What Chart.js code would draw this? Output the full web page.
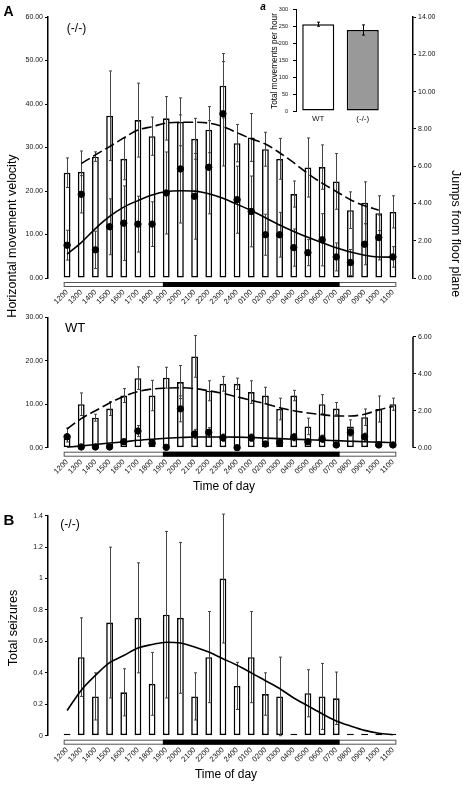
<!DOCTYPE html>
<html>
<head>
<meta charset="utf-8">
<script src="https://cdn.jsdelivr.net/npm/chart.js@4.4.0/dist/chart.umd.min.js"></script>
<style>
  body { margin: 0; background: #fff; }
  #fig { position: relative; width: 463px; height: 786px; overflow: hidden; font-family: "Liberation Sans", Arial, sans-serif; }
  canvas { position: absolute; }
  .lbl { position: absolute; color: #000; white-space: nowrap; line-height: 1; transform: translate(-50%, -50%); }
  .up { transform: translate(-50%, -50%) rotate(-90deg); }
  .down { position: absolute; color: #000; white-space: nowrap; line-height: 1; transform-origin: 0 0; transform: rotate(90deg); }
</style>
</head>
<body>
<div id="fig">
  <canvas id="ko" width="463" height="320" style="left:0;top:0"></canvas>
  <canvas id="wt" width="463" height="180" style="left:0;top:300px"></canvas>
  <canvas id="sz" width="463" height="296" style="left:0;top:490px"></canvas>
  <canvas id="inset" width="130" height="126" style="left:262px;top:0"></canvas>

  <div class="lbl" style="left:8.5px;top:11px;font-size:14px;font-weight:bold">A</div>
  <div class="lbl" style="left:9px;top:518.5px;font-size:15px;font-weight:bold">B</div>
  <div class="lbl" style="left:76.5px;top:28px;font-size:12px">(-/-)</div>
  <div class="lbl" style="left:75px;top:326.5px;font-size:13px">WT</div>
  <div class="lbl" style="left:70px;top:523.5px;font-size:12px">(-/-)</div>
  <div class="lbl" style="left:263px;top:6.5px;font-size:10px;font-weight:bold;font-style:italic">a</div>
  <div class="lbl up" style="left:12px;top:236px;font-size:12.5px">Horizontal movement velocity</div>
  <div class="down" style="left:462px;top:170px;font-size:12.5px">Jumps from floor plane</div>
  <div class="lbl" style="left:224px;top:486px;font-size:12px">Time of day</div>
  <div class="lbl" style="left:226px;top:774px;font-size:12px">Time of day</div>
  <div class="lbl up" style="left:12.5px;top:628px;font-size:12.5px">Total seizures</div>
  <div class="lbl up" style="left:273.5px;top:61px;font-size:8.3px">Total movements per hour</div>
</div>
<script>
const hours = ['1200', '1300', '1400', '1500', '1600', '1700', '1800', '1900', '2000', '2100', '2200', '2300',
    '2400', '0100', '0200', '0300', '0400', '0500', '0600', '0700', '0800', '0900', '1000', '1100'];
const darkFrom = '1900';
const darkTo = '0700';

// (-/-) horizontal velocity (bars, left axis) and jumps (dots, right axis)
const koVelocity = [24.2, 24.4, 27.9, 37.3, 27.4, 36.3, 32.6, 36.7, 35.9, 32.0, 34.1, 44.2,
    31.0, 32.3, 29.6, 27.4, 19.3, 25.4, 25.5, 22.2, 15.6, 17.3, 14.9, 15.2];
const koVelocityErr = [3.4, 4.8, 1.1, 10.3, 4.8, 8.5, 4.4, 5.0, 5.5, 4.7, 5.3, 7.4,
    4.3, 5.5, 3.9, 4.7, 3.0, 6.8, 5.1, 6.4, 4.2, 4.8, 4.0, 3.7];
const koVelocityFit = [null, 26.3, 28.3, 30.2, 32.2, 34.0, 34.8, 35.6, 35.8, 35.8, 35.6, 34.8,
    33.4, 32.0, 30.8, 28.8, 26.5, 24.0, 21.8, 19.9, 18.0, 16.6, 15.6, null];
const koJumps = [1.76, 4.49, 1.51, 2.75, 2.94, 2.89, 2.89, 4.56, 5.85, 4.38, 5.94, 8.81,
    4.2, 3.57, 2.32, 2.32, 1.63, 1.36, 2.05, 1.13, 0.83, 1.81, 2.17, 1.13];
const koJumpsErr = [0.8, 1.0, 1.0, 1.5, 2.0, 1.5, 1.2, 2.2, 2.9, 2.3, 2.5, 2.8,
    1.8, 1.9, 1.1, 1.2, 1.0, 0.7, 1.4, 0.75, 0.7, 1.1, 1.2, 0.55];
const koJumpsFit = [1.28, 1.9, 2.65, 3.3, 3.8, 4.15, 4.45, 4.64, 4.68, 4.66, 4.52, 4.28,
    3.95, 3.62, 3.23, 2.84, 2.5, 2.18, 1.89, 1.62, 1.39, 1.22, 1.13, 1.12];

// WT
const wtVelocity = [2.9, 10.0, 6.9, 9.0, 12.0, 16.0, 12.0, 16.1, 15.1, 21.0, 13.1, 14.7,
    14.7, 12.8, 12.0, 8.9, 12.0, 4.9, 10.0, 9.0, 4.9, 7.0, 8.9, 10.0];
const wtVelocityErr = [1.6, 2.6, 0.8, 1.6, 1.6, 2.6, 3.5, 2.4, 3.8, 4.8, 2.3, 1.7,
    1.3, 2.6, 1.9, 2.5, 1.2, 1.9, 2.2, 1.4, 1.5, 1.9, 3.0, 1.4];
const wtVelocityFit = [4.3, 6.7, 8.5, 10.3, 11.8, 12.9, 13.5, 13.7, 13.8, 13.6, 13.1, 12.5,
    11.7, 10.9, 10.1, 9.2, 8.5, 8.0, 7.6, 7.3, 7.3, 7.7, 8.7, 9.5];
const wtJumps = [0.59, 0.04, 0.04, 0.04, 0.32, 0.9, 0.24, 0.02, 2.1, 0.74, 0.83, 0.54,
    0, 0.54, 0.2, 0.27, 0.57, 0.32, 0.48, 0.15, 0.83, 0.59, 0.15, 0.15];
const wtJumpsErr = [0.15, 0.05, 0.05, 0.05, 0.15, 0.3, 0.15, 0.05, 0.7, 0.25, 0.25, 0.2,
    0, 0.2, 0.1, 0.15, 0.2, 0.1, 0.2, 0.1, 0.2, 0.2, 0.1, 0.1];
const wtJumpsFit = [0.02, 0.1, 0.17, 0.25, 0.32, 0.4, 0.46, 0.51, 0.55, 0.58, 0.58, 0.58,
    0.57, 0.55, 0.52, 0.49, 0.46, 0.43, 0.41, 0.38, 0.35, 0.32, 0.3, 0.27];

// B: seizures (-/-)
const seizures = [0, 0.5, 0.25, 0.72, 0.276, 0.75, 0.33, 0.77, 0.75, 0.25, 0.5, 1.0,
    0.317, 0.5, 0.265, 0.25, 0, 0.27, 0.25, 0.238, 0, 0, 0, 0];
const seizuresErr = [0, 0.25, 0.15, 0.48, 0.15, 0.35, 0.2, 0.53, 0.48, 0.15, 0.29, 0.41,
    0.15, 0.29, 0.135, 0.25, 0, 0.15, 0.21, 0.167, 0, 0, 0, 0];
const seizuresFit = [0.16, 0.29, 0.384, 0.465, 0.51, 0.558, 0.58, 0.595, 0.59, 0.565, 0.532, 0.49,
    0.448, 0.40, 0.35, 0.30, 0.24, 0.19, 0.14, 0.094, 0.062, 0.034, 0.016, 0.006];

// inset a
const insetGroups = ['WT', '(-/-)'];
const insetMoves = [256, 239];
const insetErr = [6, 15];

Chart.defaults.font.family = '"Liberation Sans", Arial, sans-serif';
Chart.defaults.color = '#111';
Chart.defaults.animation = false;
Chart.defaults.plugins.legend.display = false;
Chart.defaults.plugins.tooltip.enabled = false;

const pts = arr => arr.map((v, i) => ({ x: i, y: v })).filter(p => p.y !== null);

// error bars, drawn right after the bars so lines and dots sit on top
const errorBars = {
    id: 'errorBars',
    afterDatasetDraw(chart, args) {
        if (args.meta.type !== 'bar') return;
        const ctx = chart.ctx;
        ctx.save();
        chart.data.datasets.forEach((ds, di) => {
            if (!ds.err) return;
            const meta = chart.getDatasetMeta(di);
            const ys = chart.scales[meta.yAxisID];
            ctx.strokeStyle = ds.errColor || '#444';
            ctx.lineWidth = 1;
            meta.data.forEach((el, i) => {
                const d = ds.data[i];
                const v = typeof d === 'object' ? d.y : d;
                const e = ds.err[i];
                if (!e) return;
                const x = Math.round(el.x) + 0.5;
                const t = ys.getPixelForValue(v + e);
                const b = ys.getPixelForValue(Math.max(v - e, 0));
                ctx.beginPath();
                ctx.moveTo(x, t); ctx.lineTo(x, b);
                ctx.moveTo(x - 1.5, t); ctx.lineTo(x + 1.5, t);
                ctx.moveTo(x - 1.5, b); ctx.lineTo(x + 1.5, b);
                ctx.stroke();
            });
        });
        ctx.restore();
    }
};

// light / dark bar under the hour axis
const dayNight = {
    id: 'dayNight',
    afterDraw(chart) {
        const meta = chart.getSortedVisibleDatasetMetas().find(m => m.type === 'bar');
        const els = meta.data;
        const half = els[0].width / 2;
        const y = chart.chartArea.bottom + 4;
        const ctx = chart.ctx;
        const l = els[0].x - half, r = els[els.length - 1].x + half;
        const dl = els[hours.indexOf(darkFrom)].x - half;
        const dr = els[hours.indexOf(darkTo)].x + half;
        ctx.save();
        ctx.fillStyle = '#fff';
        ctx.fillRect(l, y, r - l, 5);
        ctx.strokeStyle = '#555';
        ctx.lineWidth = 1;
        ctx.strokeRect(l + 0.5, y + 0.5, r - l - 1, 4);
        ctx.fillStyle = '#000';
        ctx.fillRect(dl, y, dr - dl, 5);
        ctx.restore();
    }
};

function hourAxis(h) {
    return {
        type: 'linear', min: -0.81, max: 23.88,
        grid: { display: false, drawTicks: false },
        border: { display: false },
        afterBuildTicks: s => { s.ticks = hours.map((x, i) => ({ value: i })); },
        afterFit: s => { s.height = h; },
        ticks: {
            autoSkip: false, minRotation: 45, maxRotation: 45, padding: 10,
            font: { size: 7.5 }, callback: v => hours[v]
        }
    };
}

function valueAxis(pos, max, step, width, fmt) {
    return {
        position: pos, min: 0, max: max,
        afterFit: s => { s.width = width; },
        border: { color: '#000', width: 1.5 },
        grid: { drawOnChartArea: false, tickLength: 3, color: '#000' },
        ticks: { stepSize: step, includeBounds: false, padding: 2, font: { size: 7 }, callback: fmt }
    };
}

const two = v => v.toFixed(2);

function panelSets(vel, velErr, velFit, jumps, jumpsErr, jumpsFit) {
    return [
        { type: 'line', data: pts(jumps), err: jumpsErr, yAxisID: 'yJ', showLine: false, clip: false,
          pointRadius: 3.2, pointBackgroundColor: '#000', pointBorderColor: '#000', order: 0 },
        { type: 'line', data: pts(jumpsFit), yAxisID: 'yJ', borderColor: '#000', borderWidth: 1.6,
          pointRadius: 0, cubicInterpolationMode: 'monotone', order: 1 },
        { type: 'line', data: pts(velFit), yAxisID: 'yV', borderColor: '#000', borderWidth: 1.6,
          borderDash: [10, 4], pointRadius: 0, cubicInterpolationMode: 'monotone', order: 2 },
        { type: 'bar', data: pts(vel), err: velErr, yAxisID: 'yV', backgroundColor: '#fff',
          borderColor: '#000', borderWidth: 1.6, borderSkipped: false,
          categoryPercentage: 1, barPercentage: 0.48, order: 3 }
    ];
}

new Chart(document.getElementById('ko'), {
    type: 'bar',
    data: { datasets: panelSets(koVelocity, koVelocityErr, koVelocityFit, koJumps, koJumpsErr, koJumpsFit) },
    options: {
        responsive: false,
        layout: { padding: { top: 17, left: 0, right: 0, bottom: 0 } },
        scales: {
            x: hourAxis(42),
            yV: valueAxis('left', 60, 10, 48, two),
            yJ: valueAxis('right', 14, 2, 50, two)
        }
    },
    plugins: [errorBars, dayNight]
});

// WT right axis only runs up to 6
const shortAxis = {
    id: 'shortAxis',
    afterDraw(chart) {
        const s = chart.scales.yJ;
        const ctx = chart.ctx;
        ctx.save();
        ctx.strokeStyle = '#000';
        ctx.lineWidth = 1.5;
        ctx.beginPath();
        ctx.moveTo(s.left, s.getPixelForValue(0));
        ctx.lineTo(s.left, s.getPixelForValue(6));
        ctx.stroke();
        ctx.restore();
    }
};

const wtRight = valueAxis('right', 7.05, 2, 50, two);
wtRight.border = { display: false };

new Chart(document.getElementById('wt'), {
    type: 'bar',
    data: { datasets: panelSets(wtVelocity, wtVelocityErr, wtVelocityFit, wtJumps, wtJumpsErr, wtJumpsFit) },
    options: {
        responsive: false,
        layout: { padding: { top: 17.3, left: 0, right: 0, bottom: 0 } },
        scales: {
            x: hourAxis(32.3),
            yV: valueAxis('left', 30, 10, 48, two),
            yJ: wtRight
        }
    },
    plugins: [errorBars, dayNight, shortAxis]
});

new Chart(document.getElementById('sz'), {
    type: 'bar',
    data: {
        datasets: [
            { type: 'line', data: pts(seizuresFit), yAxisID: 'y', borderColor: '#000', borderWidth: 1.6,
              pointRadius: 0, cubicInterpolationMode: 'monotone', order: 0 },
            { type: 'bar', data: pts(seizures), err: seizuresErr, yAxisID: 'y', backgroundColor: '#fff',
              borderColor: '#000', borderWidth: 1.6, borderSkipped: false, minBarLength: 2,
              categoryPercentage: 1, barPercentage: 0.48, order: 1 }
        ]
    },
    options: {
        responsive: false,
        layout: { padding: { top: 25.7, left: 0, right: 50, bottom: 0 } },
        scales: {
            x: hourAxis(50.3),
            y: valueAxis('left', 1.4, 0.2, 48, v => String(+v.toFixed(1)))
        }
    },
    plugins: [errorBars, dayNight]
});

new Chart(document.getElementById('inset'), {
    type: 'bar',
    data: {
        labels: insetGroups,
        datasets: [{
            data: insetMoves, err: insetErr, errColor: '#000',
            backgroundColor: ['#fff', '#999'], borderColor: '#000', borderWidth: 1.5, borderSkipped: false,
            categoryPercentage: 1, barPercentage: 0.72
        }]
    },
    options: {
        responsive: false,
        layout: { padding: { top: 9.3, right: 7, left: 0, bottom: 0 } },
        scales: {
            x: {
                grid: { display: false, drawTicks: false }, border: { display: false },
                ticks: { padding: 3, font: { size: 8 } },
                afterFit: s => { s.height = 15; }
            },
            y: {
                min: 0, max: 300,
                afterFit: s => { s.width = 34; },
                border: { color: '#000', width: 1 },
                grid: { drawOnChartArea: false, tickLength: 3, color: '#000' },
                ticks: { stepSize: 50, padding: 5, font: { size: 5.5 } }
            }
        }
    },
    plugins: [errorBars]
});
</script>
</body>
</html>
